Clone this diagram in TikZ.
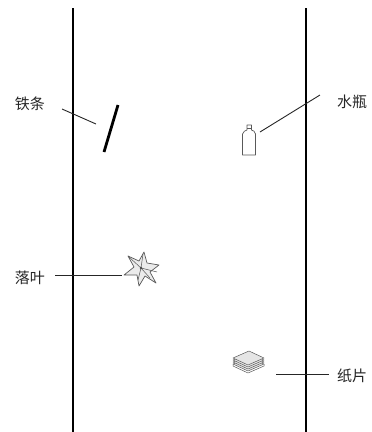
\documentclass[tikz,border=0pt]{standalone}
\usepackage{fontspec}
\newfontfamily\cjk{Noto Sans CJK SC}
\begin{document}
\begin{tikzpicture}[x=1pt,y=-1pt,
  wall/.style={line width=1.8pt,black},
  leader/.style={line width=0.9pt,black!85},
  lbl/.style={font=\cjk\fontsize{15}{15}\selectfont,text=black!85,inner sep=0pt},
  objline/.style={draw=black!65,line width=0.7pt,line join=round}]
\useasboundingbox (0,0) rectangle (372,432);
% two vertical walls
\coordinate (lt) at (73,8);  \coordinate (lb) at (73,432);
\coordinate (rt) at (306,8); \coordinate (rb) at (306,432);
\draw[wall] (lt) -- (lb);
\draw[wall] (rt) -- (rb);

% iron bar
\coordinate (bar1) at (118,105); \coordinate (bar2) at (104,152);
\draw[line width=2.8pt] (bar1) -- (bar2);
\node[lbl] (tie) at (30,104) {铁条};
\coordinate (tieA) at (62,109); \coordinate (tieB) at (96,124);
\draw[leader] (tieA) -- (tieB);

% bottle
\coordinate (bot) at (249,140);
\draw[objline,fill=white] (242.5,155) -- (242.5,134) .. controls (242.5,131) and (246,131) .. (247,130)
  -- (247,125) -- (251.5,125) -- (251.5,130) .. controls (253,131) and (255.5,131) .. (255.5,134)
  -- (255.5,155) -- cycle;
\draw[objline,line width=0.4pt] (247,128) -- (251.5,128);
\node[lbl,anchor=west] (shui) at (337,102) {水瓶};
\coordinate (shuiA) at (320,95); \coordinate (shuiB) at (260,132);
\draw[leader] (shuiA) -- (shuiB);

% fallen leaf
\coordinate (leaf) at (141,268);
\draw[objline,fill=black!8] (leaf) ++(-13,-12) -- ++(11,5) -- ++(5,-9) -- ++(3,11) -- ++(12,2)
  -- ++(-9,7) -- ++(6,11) -- ++(-11,-7) -- ++(-6,10) -- ++(-2,-11) -- ++(-13,0) -- ++(10,-8) -- cycle;
\draw[objline,line width=0.5pt] (leaf) -- ++(-12,-11) (leaf) -- ++(16,4) (leaf) -- ++(-3,12)
  (leaf) -- ++(9,10) (leaf) -- ++(2,-14);
\fill[black!70] (leaf) circle (1.3);
\node[lbl] (luo) at (30,278) {落叶};
\coordinate (luoA) at (55,275); \coordinate (luoB) at (122,275);
\draw[leader] (luoA) -- (luoB);

% paper stack
\foreach \k in {0,1,2,3} {
  \draw[objline,fill=black!10,line width=0.5pt] (233,{364-2*\k}) -- (249,{357-2*\k}) -- (264,{364-2*\k}) -- (248,{371-2*\k}) -- cycle;
}
\draw[objline,line width=0.5pt] (233,364) -- (233,366) -- (248,373) -- (264,366) -- (264,364);
\coordinate (pap) at (248,364);
\node[lbl,anchor=west] (zhi) at (337,376) {纸片};
\coordinate (zhiA) at (276,374); \coordinate (zhiB) at (329,374);
\draw[leader] (zhiA) -- (zhiB);
\end{tikzpicture}
\end{document}
